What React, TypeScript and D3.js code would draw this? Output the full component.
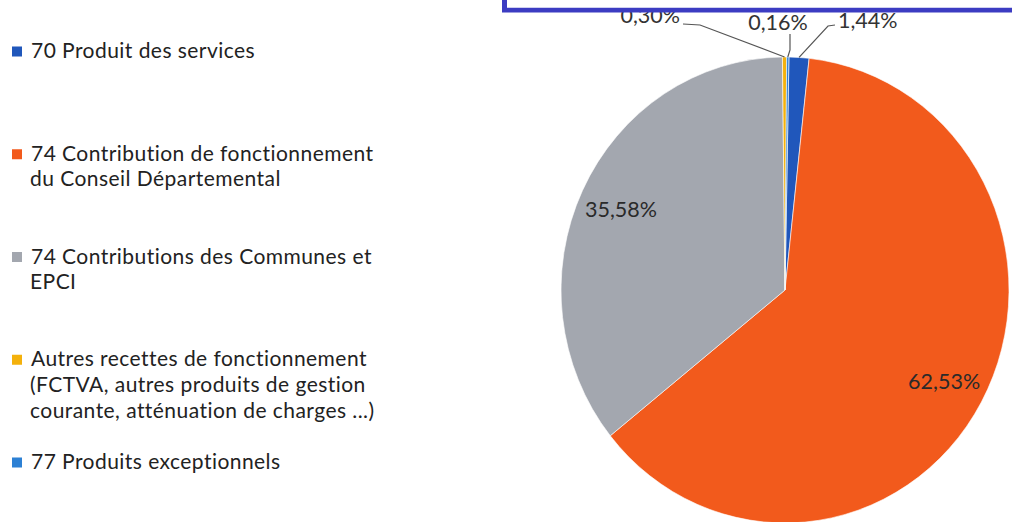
import React from "react";
import * as d3 from "d3";

const categories = [
  "70 Produit des services",
  "74 Contribution de fonctionnement du Conseil Départemental",
  "74 Contributions des Communes et EPCI",
  "Autres recettes de fonctionnement (FCTVA, autres produits de gestion courante, atténuation de charges ...)",
  "77 Produits exceptionnels",
];
const legendLines = [
  ["70 Produit des services"],
  ["74 Contribution de fonctionnement", "du Conseil Départemental"],
  ["74 Contributions des Communes et", "EPCI"],
  ["Autres recettes de fonctionnement", "(FCTVA, autres produits de gestion", "courante, atténuation de charges ...)"],
  ["77 Produits exceptionnels"],
];
const values = [1.44, 62.53, 35.58, 0.3, 0.16];
const colors = ["#2057bb", "#f25a1c", "#a3a7af", "#f4b10c", "#2c80d4"];

// label placement (layout only)
const insideLabels = [false, true, true, false, false];
const outsideLabelPos: Record<number, { x: number; y: number; anchor: string; line: [number, number][] }> = {
  0: { x: 838, y: 28, anchor: "start", line: [[835, 25], [828, 26]] },
  3: { x: 680, y: 23, anchor: "end", line: [[683, 24], [700, 25]] },
  4: { x: 778, y: 30, anchor: "middle", line: [[790, 34], [790, 50]] },
};

const W = 1012;
const H = 522;
const cx = 785;
const cy = 290;
const rx = 224;
const ry = 233;
const rot = (1 * Math.PI) / 180;

const locale = d3.formatLocale({ decimal: ",", thousands: " ", grouping: [3], currency: ["", "€"] });
const fmt = locale.format(".2f");

export default function App() {
  const pie = d3.pie<number>().sort(null).startAngle(rot).endAngle(rot + 2 * Math.PI);
  const arcs = pie(values);
  const arc = d3.arc<d3.PieArcDatum<number>>().innerRadius(0).outerRadius(rx);
  const sy = ry / rx;
  const legendY = d3.scaleLinear().domain([0, categories.length - 1]).range([58, 469]);
  const font = "Lato, 'Open Sans', sans-serif";

  const pointAt = (a: number, f: number) => [cx + Math.sin(a) * rx * f, cy - Math.cos(a) * ry * f];

  return (
    <svg width={W} height={H} style={{ position: "absolute", left: 0, top: 0, display: "block", background: "#fff" }} fontFamily={font}>
      <g transform={`translate(${cx},${cy}) scale(1,${sy})`}>
        {arcs.map((d, i) => (
          <path key={i} d={arc(d) || ""} fill={colors[i]} stroke="#fff" strokeWidth={0.6} vectorEffect="non-scaling-stroke" />
        ))}
      </g>
      {arcs.map((d, i) => {
        const mid = (d.startAngle + d.endAngle) / 2;
        if (insideLabels[i]) {
          const [x, y] = pointAt(mid, 0.81);
          return (
            <text key={i} x={x} y={y} textAnchor="middle" dominantBaseline="central" fontSize={21.5} fill="#2a2a2a">
              {fmt(values[i])}%
            </text>
          );
        }
        const p = outsideLabelPos[i];
        const edge = pointAt(mid, 1);
        const pts = [...p.line, edge as [number, number]];
        return (
          <g key={i}>
            <polyline points={pts.map((q) => q.join(",")).join(" ")} fill="none" stroke="#555" strokeWidth={1.2} />
            <text x={p.x} y={p.y} textAnchor={p.anchor as any} fontSize={21.5} fill="#333">
              {fmt(values[i])}%
            </text>
          </g>
        );
      })}
      <rect x={504.5} y={-20} width={540} height={30} fill="none" stroke="#3c3cc2" strokeWidth={5} />
      <rect x={507} y={-20} width={520} height={27.5} fill="#fff" />
      {legendLines.map((lines, i) => {
        const y0 = legendY(i);
        return (
          <g key={i}>
            <rect x={12} y={y0 - 11.5} width={10} height={10} fill={colors[i]} />
            {lines.map((l, j) => (
              <text key={j} x={j === 0 ? 31 : 30} y={y0 + j * 25.7} fontSize={21} letterSpacing={0.45} fill="#222">
                {l}
              </text>
            ))}
          </g>
        );
      })}
    </svg>
  );
}
